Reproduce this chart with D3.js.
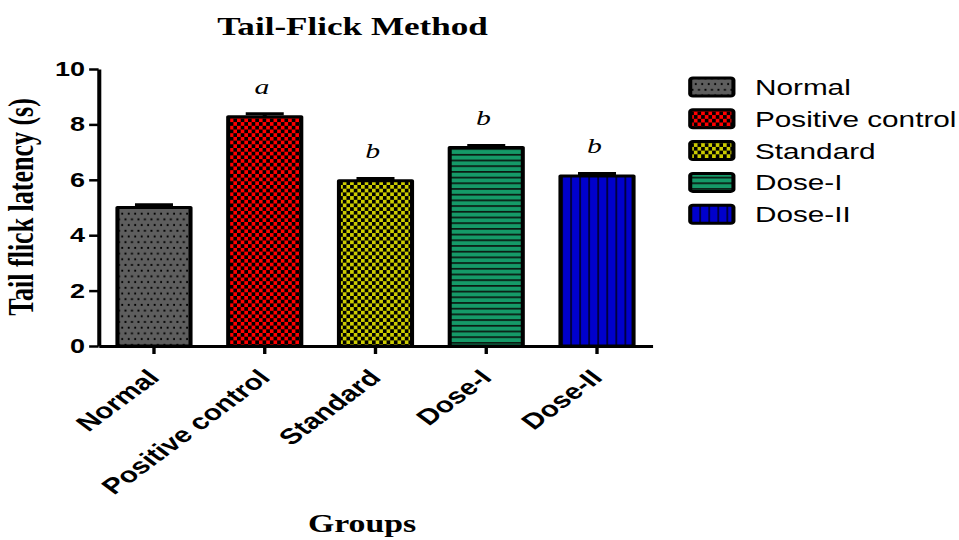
<!DOCTYPE html>
<html>
<head>
<meta charset="utf-8">
<script src="https://cdn.jsdelivr.net/npm/d3@7"></script>
<style>
  body { margin: 0; background: #fff; }
</style>
</head>
<body>
<div id="chart"></div>
<script>
// data
var groups = ["Normal", "Positive control", "Standard", "Dose-I", "Dose-II"];
var means = [5.0, 8.28, 5.97, 7.17, 6.14];
var sems = [0.1, 0.1, 0.08, 0.07, 0.09];
var sigLetters = ["", "a", "b", "b", "b"];
var yTicks = [0, 2, 4, 6, 8, 10];

var svgWidth = 959;
var svgHeight = 540;
// the reference is stretched sideways, so draw in a narrower box and let it stretch
var vbWidth = 710;

var svg = d3.select("#chart")
  .append("svg")
  .attr("width", svgWidth)
  .attr("height", svgHeight)
  .attr("viewBox", `0 0 ${vbWidth} ${svgHeight}`)
  .attr("preserveAspectRatio", "none");

// fill patterns
var defs = svg.append("defs");

function checker(id, color) {
  var p = defs.append("pattern")
    .attr("id", id)
    .attr("patternUnits", "userSpaceOnUse")
    .attr("width", 5.4)
    .attr("height", 7.4);
  p.append("rect").attr("width", 5.4).attr("height", 7.4).attr("fill", color);
  p.append("rect").attr("width", 2.7).attr("height", 3.7).attr("fill", "#000");
  p.append("rect").attr("x", 2.7).attr("y", 3.7).attr("width", 2.7).attr("height", 3.7).attr("fill", "#000");
}

var pNormal = defs.append("pattern")
  .attr("id", "pat-normal")
  .attr("patternUnits", "userSpaceOnUse")
  .attr("width", 4.8)
  .attr("height", 11.4);
pNormal.append("rect").attr("width", 4.8).attr("height", 11.4).attr("fill", "#5e5e5e");
pNormal.append("rect").attr("x", 1).attr("y", 1.8).attr("width", 1.4).attr("height", 1.9).attr("fill", "#000");
pNormal.append("rect").attr("x", 3.4).attr("y", 7.5).attr("width", 1.4).attr("height", 1.9).attr("fill", "#000");

checker("pat-pos", "#ff0000");
checker("pat-std", "#cccc00");

var pDose1 = defs.append("pattern")
  .attr("id", "pat-dose1")
  .attr("patternUnits", "userSpaceOnUse")
  .attr("width", 10)
  .attr("height", 5.7);
pDose1.append("rect").attr("width", 10).attr("height", 5.7).attr("fill", "#159a68");
pDose1.append("rect").attr("width", 10).attr("height", 1.7).attr("fill", "#0a1a12");

var pDose2 = defs.append("pattern")
  .attr("id", "pat-dose2")
  .attr("patternUnits", "userSpaceOnUse")
  .attr("width", 6.7)
  .attr("height", 10);
pDose2.append("rect").attr("width", 6.7).attr("height", 10).attr("fill", "#0000cc");
pDose2.append("rect").attr("width", 1.4).attr("height", 10).attr("fill", "#000040");

var fills = ["url(#pat-normal)", "url(#pat-pos)", "url(#pat-std)", "url(#pat-dose1)", "url(#pat-dose2)"];

// scales
var xScale = d3.scaleBand()
  .domain(groups)
  .range([73, 483])
  .paddingInner(0.34)
  .paddingOuter(0.17);

var yScale = d3.scaleLinear()
  .domain([0, 10])
  .range([346, 69]);

// bars
var bars = svg.selectAll(".bar")
  .data(groups)
  .enter()
  .append("rect")
  .classed("bar", true)
  .attr("x", d => xScale(d))
  .attr("width", xScale.bandwidth())
  .attr("y", (d, i) => yScale(means[i]))
  .attr("height", (d, i) => yScale(0) - yScale(means[i]))
  .attr("fill", (d, i) => fills[i])
  .attr("stroke", "#000")
  .attr("stroke-width", 3)
  .attr("stroke-linejoin", "round");

// error bars (upper only)
var capHalf = xScale.bandwidth() * 0.26;
var errG = svg.append("g");
groups.forEach((g, i) => {
  var cx = xScale(g) + xScale.bandwidth() / 2;
  errG.append("line")
    .attr("x1", cx).attr("x2", cx)
    .attr("y1", yScale(means[i])).attr("y2", yScale(means[i] + sems[i]))
    .attr("stroke", "#000").attr("stroke-width", 3);
  errG.append("line")
    .attr("x1", cx - capHalf).attr("x2", cx + capHalf)
    .attr("y1", yScale(means[i] + sems[i])).attr("y2", yScale(means[i] + sems[i]))
    .attr("stroke", "#000").attr("stroke-width", 3);
});

// significance letters
svg.selectAll(".sig")
  .data(groups)
  .enter()
  .append("text")
  .classed("sig", true)
  .attr("x", d => xScale(d) + xScale.bandwidth() / 2 - 2)
  .attr("y", (d, i) => yScale(means[i] + sems[i]) - 20)
  .attr("text-anchor", "middle")
  .attr("font-family", "Liberation Serif, Times New Roman, serif")
  .attr("font-style", "italic")
  .attr("font-size", "22px")
  .text((d, i) => sigLetters[i]);

// axes
var leftAxis = d3.axisLeft(yScale)
  .tickValues(yTicks)
  .tickSize(7)
  .tickSizeOuter(0)
  .tickPadding(3);

var yAxis = svg.append("g")
  .attr("transform", `translate(${73}, 0)`)
  .call(leftAxis);

var bottomAxis = d3.axisBottom(xScale)
  .tickSize(8)
  .tickSizeOuter(0)
  .tickFormat("");

var xAxis = svg.append("g")
  .attr("transform", `translate(0, ${yScale(0)})`)
  .call(bottomAxis);

svg.selectAll(".domain").attr("stroke", "#000").attr("stroke-width", 3);
svg.selectAll(".tick line").attr("stroke", "#000").attr("stroke-width", 2.5);

yAxis.selectAll("text")
  .attr("font-family", "Liberation Sans, Arial, sans-serif")
  .attr("font-weight", "bold")
  .attr("font-size", "20px")
  .attr("fill", "#000");

// rotated group labels
svg.selectAll(".xlab")
  .data(groups)
  .enter()
  .append("text")
  .classed("xlab", true)
  .attr("transform", d => `translate(${xScale(d) + xScale.bandwidth() / 2 + 5}, ${yScale(0) + 33}) rotate(-45)`)
  .attr("text-anchor", "end")
  .attr("font-family", "Liberation Sans, Arial, sans-serif")
  .attr("font-weight", "bold")
  .attr("font-size", "22px")
  .text(d => d);

// titles
svg.append("text")
  .attr("x", 261)
  .attr("y", 35)
  .attr("text-anchor", "middle")
  .attr("font-family", "Liberation Serif, Times New Roman, serif")
  .attr("font-weight", "bold")
  .attr("font-size", "26px")
  .text("Tail-Flick Method");

svg.append("text")
  .attr("transform", "translate(24.5, 207) rotate(-90)")
  .attr("text-anchor", "middle")
  .attr("font-family", "Liberation Serif, Times New Roman, serif")
  .attr("font-weight", "bold")
  .attr("font-size", "26px")
  .text("Tail flick latency (s)");

svg.append("text")
  .attr("x", 268)
  .attr("y", 532)
  .attr("text-anchor", "middle")
  .attr("font-family", "Liberation Serif, Times New Roman, serif")
  .attr("font-weight", "bold")
  .attr("font-size", "25px")
  .text("Groups");

// legend
var legend = svg.selectAll(".legend")
  .data(groups)
  .enter()
  .append("g")
  .classed("legend", true)
  .attr("transform", (d, i) => `translate(511, ${87 + i * 31.8})`);

legend.append("rect")
  .attr("x", 0)
  .attr("y", -9)
  .attr("width", 32)
  .attr("height", 18)
  .attr("rx", 2)
  .attr("fill", (d, i) => fills[i])
  .attr("stroke", "#000")
  .attr("stroke-width", 3);

legend.append("text")
  .attr("x", 48)
  .attr("y", 0)
  .attr("dy", "0.36em")
  .attr("font-family", "Liberation Sans, Arial, sans-serif")
  .attr("font-size", "22px")
  .text(d => d);
</script>
</body>
</html>
